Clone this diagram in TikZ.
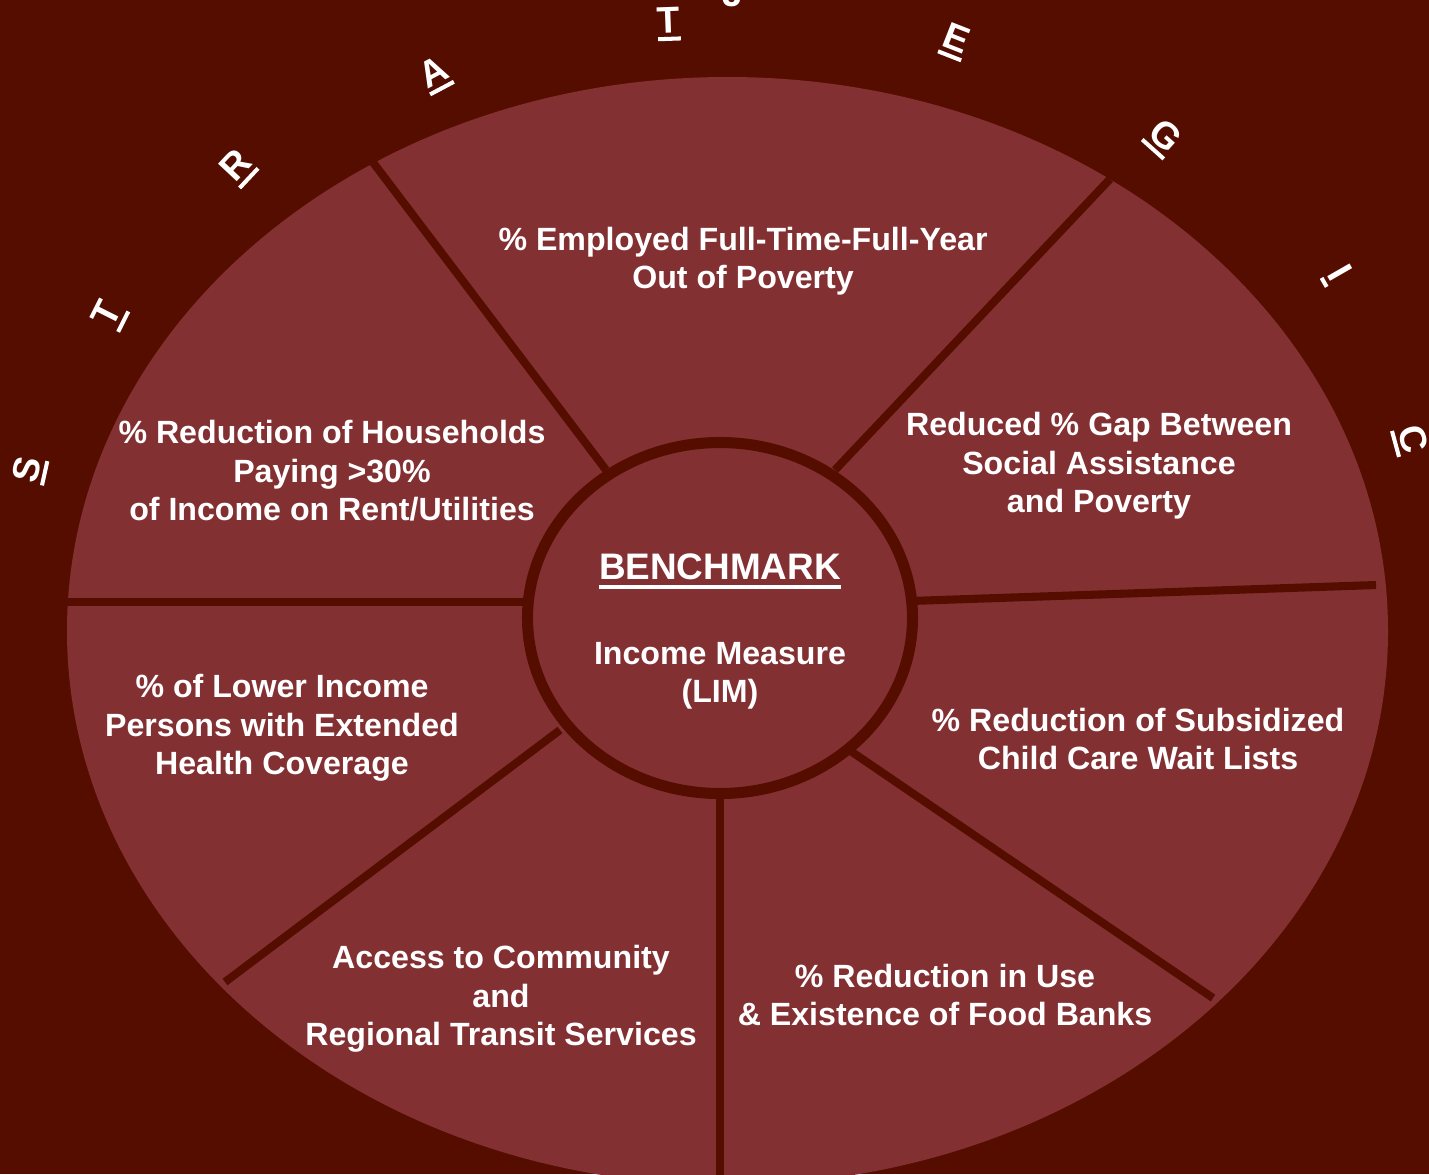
\documentclass[tikz,border=0pt]{standalone}
\usepackage{fontspec}
\setmainfont{Liberation Sans}
\definecolor{wheelbg}{HTML}{550D00}
\definecolor{wheelfill}{HTML}{833033}
% underlined letter of the arc word, and the underlined hub title
\newcommand{\arcmark}[1]{\setbox0\hbox{#1}\rlap{\rule[-4.6pt]{\wd0}{2.3pt}}\box0}
\newcommand{\hubmark}[1]{\setbox0\hbox{#1}\rlap{\rule[-5.3pt]{\wd0}{1.9pt}}\box0}
\begin{document}
\begin{tikzpicture}[x=0.02cm, y=-0.02cm,
    goal/.style={text=white, align=center, inner sep=0pt,
      font=\bfseries\fontsize{18.3}{21.9}\selectfont},
    divider/.style={draw=wheelbg, line width=4.6pt},
    arcletter/.style={text=white, inner sep=0pt,
      font=\bfseries\fontsize{21.2}{24}\selectfont}]

  % Background, drawn first and fixing the page size
  \fill[wheelbg] (0,0) rectangle (1429,1174);
  \useasboundingbox (0,0) rectangle (1429,1174);

  % Outer wheel
  \fill[wheelfill] (727.5,631) ellipse [x radius=660.5, y radius=554];

  % Dividers between the goals
  \draw[divider] (606,470) -- (372,161);
  \draw[divider] (835,470) -- (1110,179);
  \draw[divider] (910,601) -- (1376,585);
  \draw[divider] (852,752) -- (1213,998);
  \draw[divider] (720,795) -- (720,1180);
  \draw[divider] (560,730) -- (225,982);
  \draw[divider] (530,602) -- (67,602);

  % Benchmark hub
  \filldraw[fill=wheelfill, draw=wheelbg, line width=6.3pt]
    (720,618) ellipse [x radius=192.5, y radius=175.5];

  % Goals
  \node[goal] (employed) at (743,261) {\% Employed Full-Time-Full-Year\\Out of Poverty};
  \node[goal] (gap) at (1099,466) {Reduced \% Gap Between\\Social Assistance\\and Poverty};
  \node[goal] (childcare) at (1138,739) {\% Reduction of Subsidized\\Child Care Wait Lists};
  \node[goal] (foodbank) at (945,995) {\% Reduction in Use\\\& Existence of Food Banks};
  \node[goal] (transit) at (501,999) {Access to Community\\and\\Regional Transit Services};
  \node[goal] (health) at (282,728) {\% of Lower Income\\Persons with Extended\\Health Coverage};
  \node[goal] (housing) at (332,471) {\% Reduction of Households\\Paying >30\%\\of Income on Rent/Utilities};

  % Hub text
  \node[goal, font=\bfseries\fontsize{21}{25}\selectfont] (bench) at (720,571) {\hubmark{BENCHMARK}};
  \node[goal] (lim) at (720,676) {Income Measure\\(LIM)};

  % Letters round the rim
  \foreach \ch/\px/\py/\rot [count=\i] in {S/30/470/77.5, T/110/315/63.3,
      R/238/168/46.9, A/435/75/28, T/669/24/2, E/955/42/-21.4,
      G/1163/138/-41.8, I/1337/275/-60.2, C/1410/440/-74.8} {
    \node[arcletter, rotate=\rot] (rim-\i) at (\px,\py) {\arcmark{\ch}};
  }
  \node[arcletter] (rim-top) at (733,-6) {J};
\end{tikzpicture}
\end{document}
